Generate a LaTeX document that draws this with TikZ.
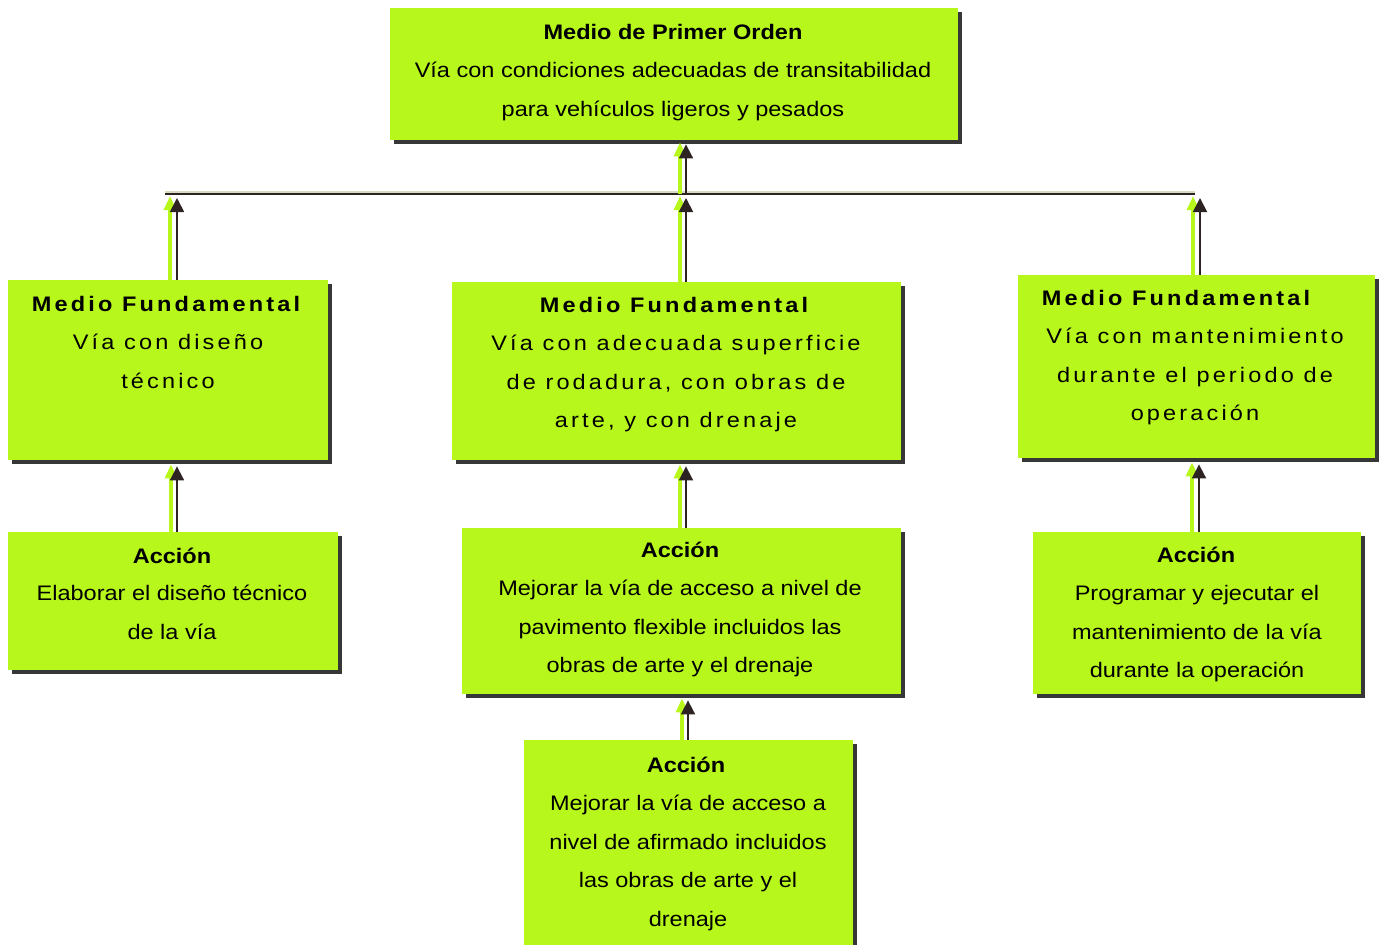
\documentclass[tikz,border=0pt]{standalone}
\usepackage{fontspec}
\setmainfont[FakeStretch=1.12]{Liberation Sans}
\newfontfamily\spacedfont[FakeStretch=1.12,LetterSpace=15]{Liberation Sans}
\usetikzlibrary{fit,shadows,arrows.meta}
\definecolor{limec}{RGB}{184,247,28}
\definecolor{shadowc}{RGB}{55,55,55}
\definecolor{arrc}{RGB}{45,35,35}
\definecolor{lightln}{RGB}{215,220,195}
\tikzset{
  box/.style={draw=none, fill=limec, inner sep=0pt,
    drop shadow={shadow xshift=2pt, shadow yshift=-2pt, fill=shadowc, opacity=1}},
  head/.style={anchor=base, inner sep=0pt, font=\fontsize{10.5}{19.2}\selectfont\bfseries},
  shead/.style={anchor=base, inner sep=0pt, font=\fontsize{10.5}{19.2}\selectfont\spacedfont\bfseries},
  body/.style={anchor=north, inner sep=0pt, align=center, font=\fontsize{10.5}{19.2}\selectfont},
  sbody/.style={anchor=north, inner sep=0pt, align=center, font=\fontsize{10.5}{19.2}\selectfont\spacedfont},
  darr/.style={draw=arrc, line width=0.9pt, -{Triangle[length=7pt,width=7pt]}},
  larr/.style={draw=limec, line width=1.6pt, -{Triangle[length=7pt,width=6pt]}},
}
\begin{document}
\begin{tikzpicture}[x=0.5pt,y=-0.5pt]
\useasboundingbox (0,0) rectangle (1381,944);
% boxes
\node[box, fit={(390,8)(958,140)}] (top) {};
\node[box, fit={(8,280)(328,460)}] (mf1) {};
\node[box, fit={(452,282)(901,460)}] (mf2) {};
\node[box, fit={(1018,275)(1375,458)}] (mf3) {};
\node[box, fit={(8,532)(338,670)}] (a1) {};
\node[box, fit={(462,528)(901,694)}] (a2) {};
\node[box, fit={(1033,532)(1361,694)}] (a3) {};
\node[box, fit={(524,740)(853,960)}] (a4) {};
% texts
\node[head] (tophd) at (673,39) {Medio de Primer Orden};
\node[body] (topbd) at (673,50.7) {\strut Vía con condiciones adecuadas de transitabilidad\\para vehículos ligeros y pesados};
\node[shead] (mf1hd) at (166,311) {Medio Fundamental};
\node[sbody] (mf1bd) at (168,322.7) {\strut Vía con diseño\\técnico};
\node[shead] (mf2hd) at (674,312) {Medio Fundamental};
\node[sbody] (mf2bd) at (676,323.7) {\strut Vía con adecuada superficie\\de rodadura, con obras de\\arte, y con drenaje};
\node[shead] (mf3hd) at (1176,305) {Medio Fundamental};
\node[sbody] (mf3bd) at (1195,316.7) {\strut Vía con mantenimiento\\durante el periodo de\\operación};
\node[head] (a1hd) at (172,563) {Acción};
\node[body] (a1bd) at (172,573.7) {\strut Elaborar el diseño técnico\\de la vía};
\node[head] (a2hd) at (680,557) {Acción};
\node[body] (a2bd) at (680,568.7) {\strut Mejorar la vía de acceso a nivel de\\pavimento flexible incluidos las\\obras de arte y el drenaje};
\node[head] (a3hd) at (1196,562) {Acción};
\node[body] (a3bd) at (1197,573.7) {\strut Programar y ejecutar el\\mantenimiento de la vía\\durante la operación};
\node[head] (a4hd) at (686,772) {Acción};
\node[body] (a4bd) at (688,783.7) {\strut Mejorar la vía de acceso a\\nivel de afirmado incluidos\\las obras de arte y el\\drenaje};
% horizontal connector
\coordinate (hl) at (165,194);
\coordinate (hr) at (1195,194);
\draw[lightln, line width=1pt] ([yshift=1pt]hl) -- ([yshift=1pt]hr);
\draw[arrc, line width=0.7pt] (hl) -- (hr);
% arrows: lime offset then dark
\draw[larr] (mf1.north -| 170,0) -- ([yshift=-1pt]hl -| 170,0);
\draw[darr] (mf1.north -| 177,0) -- ([yshift=-2pt]hl -| 177,0);
\draw[larr] (mf2.north -| 680,0) -- ([yshift=-1pt]hl -| 680,0);
\draw[darr] (mf2.north -| 686,0) -- ([yshift=-2pt]hl -| 686,0);
\draw[larr] (mf3.north -| 1193,0) -- ([yshift=-1pt]hr -| 1193,0);
\draw[darr] (mf3.north -| 1200,0) -- ([yshift=-2pt]hr -| 1200,0);
\draw[larr] (hl -| 680,0) -- ([yshift=-1pt]top.south -| 680,0);
\draw[darr] (hl -| 686,0) -- ([yshift=-2pt]top.south -| 686,0);
\draw[larr] (a1.north -| 171,0) -- ([yshift=-2pt]mf1.south -| 171,0);
\draw[darr] (a1.north -| 177,0) -- ([yshift=-3pt]mf1.south -| 177,0);
\draw[larr] (a2.north -| 680,0) -- ([yshift=-2pt]mf2.south -| 680,0);
\draw[darr] (a2.north -| 686,0) -- ([yshift=-3pt]mf2.south -| 686,0);
\draw[larr] (a3.north -| 1192,0) -- ([yshift=-2pt]mf3.south -| 1192,0);
\draw[darr] (a3.north -| 1199,0) -- ([yshift=-3pt]mf3.south -| 1199,0);
\draw[larr] (a4.north -| 682,0) -- ([yshift=-2pt]a2.south -| 682,0);
\draw[darr] (a4.north -| 688,0) -- ([yshift=-3pt]a2.south -| 688,0);
\end{tikzpicture}
\end{document}
